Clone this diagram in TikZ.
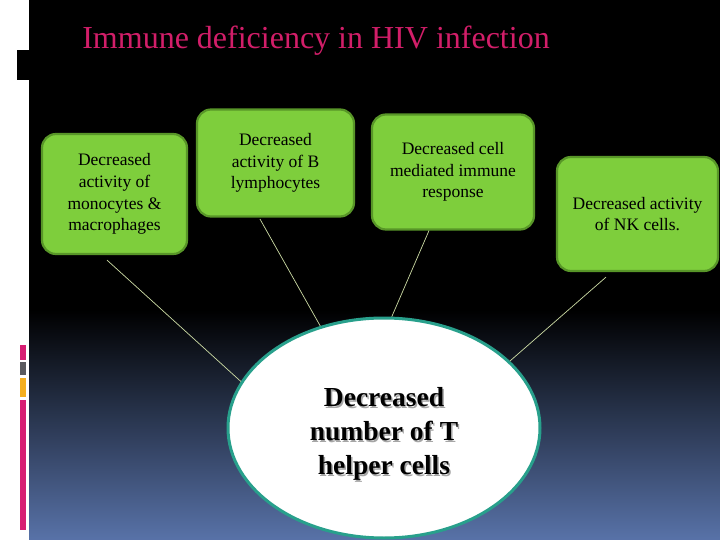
\documentclass[tikz,border=0pt]{standalone}
\usepackage{fontspec}
\setmainfont{Liberation Serif}
\usetikzlibrary{shapes.geometric,calc}
\definecolor{boxgreen}{RGB}{126,206,60}
\definecolor{boxedge}{RGB}{88,150,40}
\definecolor{titlepink}{RGB}{210,30,105}
\definecolor{ellteal}{RGB}{40,160,140}
\definecolor{linecol}{RGB}{205,220,165}
\definecolor{bgblue}{RGB}{88,114,168}
\definecolor{barpink}{RGB}{215,30,115}
\definecolor{bargray}{RGB}{90,90,95}
\definecolor{barorange}{RGB}{245,175,30}
\tikzset{
  gbox/.style={draw=boxedge, line width=2.2pt, fill=boxgreen, rounded corners=14pt,
    align=center, font=\fontsize{17.5}{21.7}\selectfont, inner sep=2pt},
  conn/.style={draw=linecol, line width=0.7pt},
  ell/.style={ellipse, draw=ellteal, line width=3pt, fill=white, minimum width=312pt, minimum height=220pt, inner sep=0pt},
  ctext/.style={align=center, font=\bfseries\fontsize{27.5}{34}\selectfont}
}
\begin{document}
\begin{tikzpicture}[x=1pt,y=-1pt]
\useasboundingbox (0,0) rectangle (720,540);
% background
\fill[white] (0,0) rectangle (720,540);
\fill[black] (29,0) rectangle (720,310);
\shade[top color=black, bottom color=bgblue] (29,310) rectangle (720,540);
% left decorations
\fill[black] (17,50) rectangle (29,80);
\fill[barpink] (20,345) rectangle (26,360);
\fill[bargray] (20,362) rectangle (26,375);
\fill[barorange] (20,378) rectangle (26,397);
\fill[barpink] (20,400) rectangle (26,530);
% title
\node[text=titlepink, font=\fontsize{32}{36}\selectfont, anchor=center] (title) at (316,41) {Immune deficiency in HIV infection};
% boxes
\node[gbox, minimum width=145pt, minimum height=120pt] (b1) at (114.5,194) {Decreased\\activity of\\monocytes \&\\macrophages};
\node[gbox, minimum width=157pt, minimum height=107pt] (b2) at (275.5,163) {Decreased\\activity of B\\lymphocytes};
\node[gbox, minimum width=162pt, minimum height=115pt] (b3) at (453,172) {Decreased cell\\mediated immune\\response};
\node[gbox, minimum width=161pt, minimum height=114pt] (b4) at (637.5,214) {Decreased activity\\of NK cells.};
% central ellipse
\node[ell] (ell) at (384,428) {};
\node[ctext, text=black!35] at (385.5,435.5) {Decreased\\number of T\\helper cells};
\node[ctext] (ctr) at (384,434) {Decreased\\number of T\\helper cells};
% connectors
\draw[conn] ($(b1.south)+(-7.5,5)$) -- (ell.162);
\draw[conn] ($(b2.south)+(-15.5,1.5)$) -- (ell.122);
\draw[conn] ($(b3.south)+(-24,0)$) -- (ell.86);
\draw[conn] ($(b4.south)+(-31.5,5)$) -- (ell.28);
\end{tikzpicture}
\end{document}
